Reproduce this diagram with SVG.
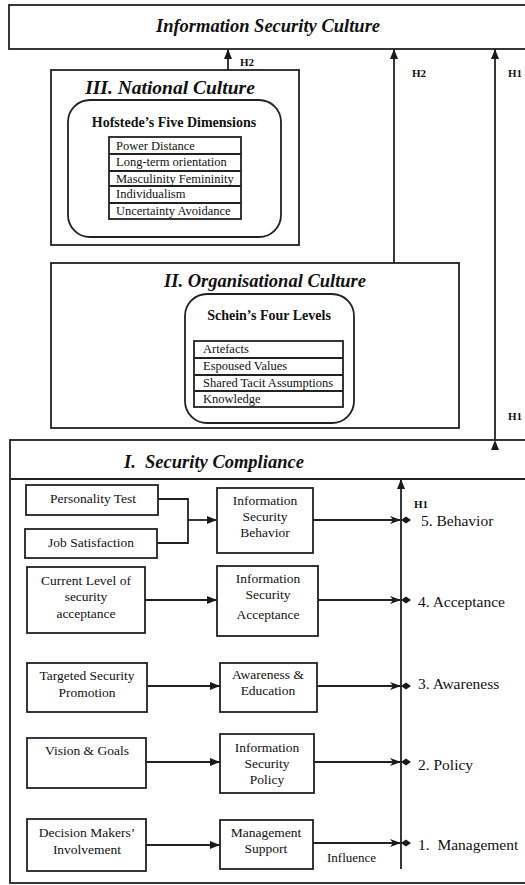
<svg xmlns="http://www.w3.org/2000/svg" width="525" height="885" viewBox="0 0 525 885" font-family="'Liberation Serif', 'DejaVu Serif', serif">
<defs>
<marker id="arr" markerUnits="userSpaceOnUse" markerWidth="10" markerHeight="10" viewBox="0 -5 10 10" refX="10" refY="0" orient="auto">
<path d="M0,-4 L10,0 L0,4 Z" fill="#1a1a1a"/>
</marker>
<marker id="bone" markerUnits="userSpaceOnUse" markerWidth="24" markerHeight="10" viewBox="0 -5 24 10" refX="11" refY="0" orient="auto">
<path d="M0,-4 L3,0 L0,4 L11,0 Z" fill="#1a1a1a"/>
<path d="M11,0 L16,-3.5 L21,0 L16,3.5 Z" fill="#1a1a1a"/>
</marker>
</defs>
<style>
rect, .ln { fill: none; stroke: #222; stroke-width: 1.8; }
text { font-family: 'Liberation Serif', 'DejaVu Serif', serif; fill: #111; }
.ttl { font-size: 18.5px; font-weight: bold; font-style: italic; text-anchor: middle; }
.sub { font-size: 14px; font-weight: bold; text-anchor: middle; }
.row { font-size: 12.5px; }
.nd { font-size: 13.5px; text-anchor: middle; }
.lvl { font-size: 15.5px; }
.h { font-size: 11px; font-weight: bold; }
.con { fill: none; stroke: #222; stroke-width: 1.8; }
</style>

<g id="info-security-culture">
<rect x="9" y="5" width="530" height="44"/>
<text class="ttl" x="268" y="32">Information Security Culture</text>
</g>

<g id="national-culture">
<rect x="51" y="70" width="248" height="175"/>
<text class="ttl" x="170" y="94" style="font-size:19.5px">III. National Culture</text>
<rect x="68" y="100" width="213" height="137" rx="22"/>
<text class="sub" x="174" y="127">Hofstede’s Five Dimensions</text>
<rect x="109" y="137" width="132" height="82"/>
<path class="ln" d="M109,154 H241 M109,171 H241 M109,186 H241 M109,203 H241"/>
<text class="row" x="116" y="150">Power Distance</text>
<text class="row" x="116" y="166">Long-term orientation</text>
<text class="row" x="116" y="183">Masculinity Femininity</text>
<text class="row" x="116" y="198">Individualism</text>
<text class="row" x="116" y="215">Uncertainty Avoidance</text>
</g>

<g id="organisational-culture">
<rect x="51" y="263" width="408" height="165"/>
<text class="ttl" x="265" y="287">II. Organisational Culture</text>
<rect x="185" y="294" width="169" height="129" rx="22"/>
<text class="sub" x="269" y="320">Schein’s Four Levels</text>
<rect x="194" y="341" width="149" height="66"/>
<path class="ln" d="M194,358 H343 M194,375 H343 M194,391 H343"/>
<text class="row" x="203" y="353">Artefacts</text>
<text class="row" x="203" y="370">Espoused Values</text>
<text class="row" x="203" y="387">Shared Tacit Assumptions</text>
<text class="row" x="203" y="403">Knowledge</text>
</g>

<g id="security-compliance">
<rect x="10" y="440" width="530" height="443"/>
<path class="ln" d="M10,479 H530"/>
<text x="124" y="468" xml:space="preserve" style="font-size:18.5px;font-weight:bold;font-style:italic">I.  Security Compliance</text>
</g>

<g id="personality-test">
<rect x="26" y="485" width="132" height="30"/>
<text class="nd" x="93" y="503">Personality Test</text>
</g>
<g id="job-satisfaction">
<rect x="25" y="529" width="132" height="29"/>
<text class="nd" x="91" y="547">Job Satisfaction</text>
</g>
<g id="is-behavior">
<rect x="217" y="488" width="96" height="65"/>
<text class="nd" x="265" y="505">Information</text>
<text class="nd" x="265" y="521">Security</text>
<text class="nd" x="265" y="537">Behavior</text>
</g>
<g id="current-level">
<rect x="27" y="567" width="118" height="66"/>
<text class="nd" x="86" y="585">Current Level of</text>
<text class="nd" x="86" y="601">security</text>
<text class="nd" x="86" y="618">acceptance</text>
</g>
<g id="is-acceptance">
<rect x="217" y="566" width="101" height="70"/>
<text class="nd" x="268" y="583">Information</text>
<text class="nd" x="268" y="599">Security</text>
<text class="nd" x="268" y="619">Acceptance</text>
</g>
<g id="targeted-promotion">
<rect x="27" y="663" width="120" height="49"/>
<text class="nd" x="87" y="680">Targeted Security</text>
<text class="nd" x="87" y="697">Promotion</text>
</g>
<g id="awareness-education">
<rect x="220" y="663" width="97" height="49"/>
<text class="nd" x="268" y="679">Awareness &amp;</text>
<text class="nd" x="268" y="695">Education</text>
</g>
<g id="vision-goals">
<rect x="27" y="738" width="119" height="50"/>
<text class="nd" x="87" y="755">Vision &amp; Goals</text>
</g>
<g id="is-policy">
<rect x="220" y="734" width="94" height="59"/>
<text class="nd" x="267" y="752">Information</text>
<text class="nd" x="267" y="768">Security</text>
<text class="nd" x="267" y="784">Policy</text>
</g>
<g id="decision-makers">
<rect x="27" y="819" width="119" height="52"/>
<text class="nd" x="87" y="837">Decision Makers’</text>
<text class="nd" x="87" y="854">Involvement</text>
</g>
<g id="management-support">
<rect x="220" y="820" width="93" height="49"/>
<text class="nd" x="266" y="837">Management</text>
<text class="nd" x="266" y="853">Support</text>
</g>

<g id="levels">
<text class="lvl" x="421" y="526">5. Behavior</text>
<text class="lvl" x="418" y="607">4. Acceptance</text>
<text class="lvl" x="418" y="689">3. Awareness</text>
<text class="lvl" x="418" y="770">2. Policy</text>
<text class="lvl" x="418" y="850" xml:space="preserve">1.  Management</text>
</g>

<g id="connectors">
<path class="con" d="M228,70 V49" marker-end="url(#arr)"/>
<text class="h" x="240" y="66">H2</text>
<path class="con" d="M394,263 V49" marker-end="url(#arr)"/>
<text class="h" x="412" y="77">H2</text>
<path class="con" d="M495,440 V49" marker-end="url(#arr)" marker-start="url(#arr)"/>
<text class="h" x="508" y="77">H1</text>
<text class="h" x="508" y="420">H1</text>
<path class="con" d="M401,869 V479" marker-end="url(#arr)"/>
<text class="h" x="414" y="508">H1</text>
<path class="con" d="M158,499 H188 V543 H157"/>
<path class="con" d="M188,520 H217" marker-end="url(#arr)"/>
<path class="con" d="M145,600 H217" marker-end="url(#arr)"/>
<path class="con" d="M147,686 H220" marker-end="url(#arr)"/>
<path class="con" d="M146,762 H220" marker-end="url(#arr)"/>
<path class="con" d="M146,845 H220" marker-end="url(#arr)"/>
<path class="con" d="M313,520 H401" marker-end="url(#bone)"/>
<path class="con" d="M318,600 H401" marker-end="url(#bone)"/>
<path class="con" d="M317,686 H401" marker-end="url(#bone)"/>
<path class="con" d="M314,762 H401" marker-end="url(#bone)"/>
<path class="con" d="M313,843 H401" marker-end="url(#bone)"/>
<text x="327" y="862" style="font-size:13px">Influence</text>
</g>
</svg>
